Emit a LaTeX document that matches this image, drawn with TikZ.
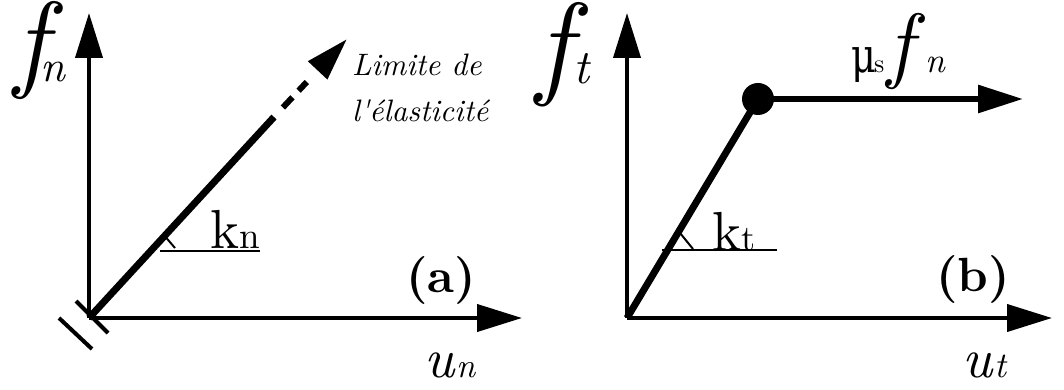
\documentclass[tikz,border=0pt]{standalone}
\usepackage{fontspec}
\newfontfamily\lmr{lmroman10}[Extension=.otf,UprightFont=*-regular,ItalicFont=*-italic,BoldFont=*-bold,BoldItalicFont=*-bolditalic]
\newfontfamily\dvs{DejaVu Serif}
\usetikzlibrary{arrows.meta}
\newcommand\fsz[1]{\fontsize{#1}{#1}\selectfont}
\begin{document}
\begin{tikzpicture}[x=1pt,y=-1pt,
  axis/.style={line width=4pt,-{Triangle[length=45pt,width=27pt]}},
  curve/.style={line width=7pt},
  thinline/.style={line width=2pt},
  tick/.style={line width=4pt},
  lbl/.style={inner sep=0pt,outer sep=0pt,anchor=base west},
  bigf/.style={lbl,text height=0.6em,text depth=0.2em}]
\useasboundingbox (0,0) rectangle (1064,390);
% ---------- panel (a)
\coordinate (O1) at (89,318);
\coordinate (Y1) at (89,13);
\coordinate (X1) at (522,318);
\coordinate (S1) at (274,117);
\coordinate (T1) at (347,39);
\draw[axis] (O1) -- (Y1);
\draw[axis] (O1) -- (X1);
\draw[curve] (O1) -- (S1);
\draw[line width=6pt,dash pattern=on 0pt off 13pt on 14pt off 9pt on 12pt off 100pt,
      -{Triangle[length=43pt,width=25pt]}] (S1) -- (T1);
\coordinate (A1) at (76,301);
\coordinate (A2) at (108,333);
\coordinate (B1) at (59,318);
\coordinate (B2) at (92,349);
\draw[tick] (A1) -- (A2);
\draw[tick] (B1) -- (B2);
\coordinate (U1a) at (160,251);
\coordinate (U1b) at (260,251);
\coordinate (M1a) at (163,234);
\coordinate (M1b) at (175,248);
\draw[thinline] (U1a) -- (U1b);
\draw[thinline] (M1a) -- (M1b);
\node[lbl,font=\lmr\fsz{55}] (k1) at (210,248) {k};
\node[lbl,font=\lmr\fsz{37}] (n1) at (239,248) {n};
\node[lbl,font=\lmr\bfseries\fsz{48}] (a) at (406,292) {(a)};
\node[lbl,font=\lmr\itshape\fsz{31}] (lim1) at (352,76) {Limite de};
\node[lbl,font=\lmr\itshape\fsz{31}] (lim2) at (352,122) {l'élasticité};
\node[bigf,font=\lmr\itshape\fsz{108}] (fn) at (14,78) {f};
\node[lbl,font=\lmr\itshape\fsz{44}] (fnn) at (40,82) {n};
\node[lbl,font=\lmr\itshape\fsz{56}] (un) at (424,377) {u};
\node[lbl,font=\lmr\itshape\fsz{34}] (unn) at (456,377) {n};
% ---------- panel (b)
\coordinate (O2) at (627,318);
\coordinate (Y2) at (627,13);
\coordinate (X2) at (1052,318);
\coordinate (H2) at (1023,99);
\draw[axis] (O2) -- (Y2);
\draw[axis] (O2) -- (X2);
\node[circle,fill=black,inner sep=0pt,minimum size=32pt] (dot) at (758,99) {};
\draw[curve] (O2) -- (dot.center);
\draw[line width=6pt,-{Triangle[length=45pt,width=27pt]}] (dot.center) -- (H2);
\coordinate (U2a) at (662,250);
\coordinate (U2b) at (777,250);
\coordinate (M2a) at (680,233);
\coordinate (M2b) at (693,249);
\draw[thinline] (U2a) -- (U2b);
\draw[thinline] (M2a) -- (M2b);
\node[lbl,font=\lmr\fsz{55}] (k2) at (712,250) {k};
\node[lbl,font=\lmr\fsz{36}] (t2) at (741,250) {t};
\node[lbl,font=\lmr\bfseries\fsz{48}] (b) at (936,291) {(b)};
\node[bigf,font=\lmr\itshape\fsz{115}] (ft) at (536,84) {f};
\node[lbl,font=\lmr\itshape\fsz{48}] (ftt) at (573,84) {t};
\node[lbl,font=\dvs\fsz{48}] (mu) at (851,73) {\scalebox{0.8}[1]{μ}};
\node[lbl,font=\lmr\fsz{26}] (s) at (874,73) {s};
\node[bigf,font=\lmr\itshape\fsz{84}] (f2) at (887,73) {f};
\node[lbl,font=\lmr\itshape\fsz{35}] (n2) at (925,73) {n};
\node[lbl,font=\lmr\itshape\fsz{56}] (ut) at (962,377) {u};
\node[lbl,font=\lmr\itshape\fsz{36}] (utt) at (994,377) {t};
\end{tikzpicture}
\end{document}
